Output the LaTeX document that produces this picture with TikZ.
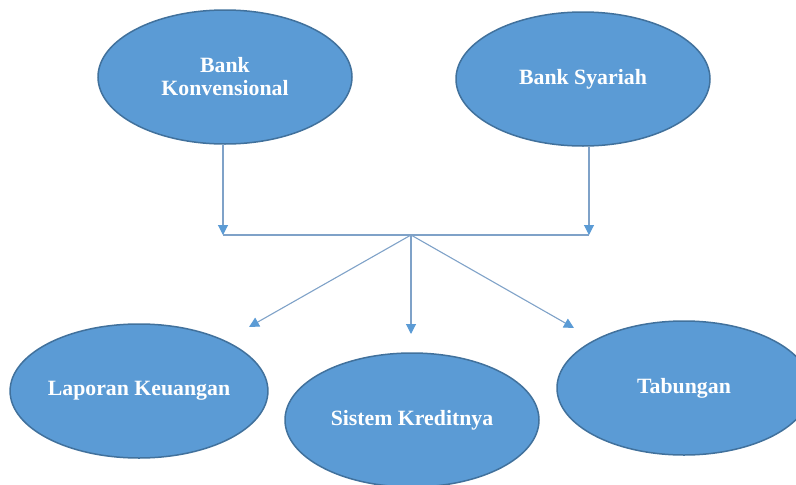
\documentclass[tikz,border=0pt]{standalone}
\usepackage{fontspec}
\setmainfont{Liberation Serif}
\usetikzlibrary{shapes.geometric,arrows.meta}
\definecolor{fillblue}{HTML}{5B9BD5}
\definecolor{edgeblue}{HTML}{41719C}
\definecolor{lineblue}{HTML}{7FA2C8}
\tikzset{
  oval/.style={ellipse, draw=edgeblue, line width=1.5pt, fill=fillblue,
    minimum width=254pt, minimum height=134pt, inner sep=0pt,
    text=white, font=\fontsize{21.8}{23}\selectfont\bfseries, align=center},
  conn/.style={draw=lineblue, line width=1.1pt},
  arr/.style={conn, -{Triangle[width=10pt,length=10pt,fill=fillblue,color=fillblue]}}
}
\begin{document}
\begin{tikzpicture}[x=1pt,y=-1pt]
\useasboundingbox (0,0) rectangle (796,485);
\node[oval] (BK) at (225,77) {Bank\\Konvensional};
\node[oval] (BS) at (583,79) {Bank Syariah};
\node[oval] (LK) at (139,391) {Laporan Keuangan};
\node[oval] (SK) at (412,420) {Sistem Kreditnya};
\node[oval] (TB) at (684,388) {Tabungan};
\coordinate (a1) at (223,235);
\coordinate (a2) at (589,235);
\coordinate (J) at (411,235);
\coordinate (t1) at (249,327);
\coordinate (t2) at (411,334);
\coordinate (t3) at (574,328);
\draw[arr] (a1 |- BK.south) -- (a1);
\draw[arr] (a2 |- BS.south) -- (a2);
\draw[conn] (a1) -- (a2);
\draw[arr] (J) -- (t1);
\draw[arr] (J) -- (t2);
\draw[arr] (J) -- (t3);
\end{tikzpicture}
\end{document}
